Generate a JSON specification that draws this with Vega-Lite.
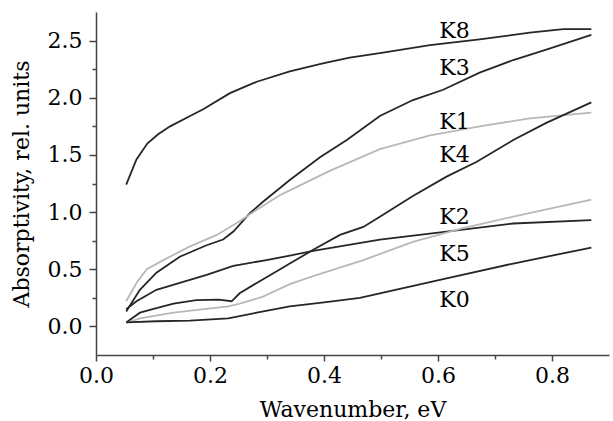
{
  "$schema": "https://vega.github.io/schema/vega-lite/v6.json",
  "width": 513,
  "height": 343,
  "autosize": {"type": "none"},
  "padding": {"left": 96, "top": 12, "right": 4, "bottom": 66},
  "background": "white",
  "config": {
    "view": {"stroke": null},
    "font": "DejaVu Serif",
    "text": {"font": "DejaVu Serif"},
    "axis": {
      "labelFont": "DejaVu Serif",
      "titleFont": "DejaVu Serif",
      "labelFontSize": 22,
      "titleFontSize": 22,
      "titleFontWeight": "normal",
      "labelColor": "#000",
      "titleColor": "#000",
      "domainColor": "#444",
      "tickColor": "#444",
      "domainWidth": 1.5,
      "tickWidth": 1.5,
      "labelFlush": false,
      "grid": false
    }
  },
  "datasets": {
    "curves": [
      {"s":"K8","x":0.053,"y":1.24},{"s":"K8","x":0.071,"y":1.46},{"s":"K8","x":0.09,"y":1.6},{"s":"K8","x":0.109,"y":1.68},{"s":"K8","x":0.13,"y":1.75},{"s":"K8","x":0.165,"y":1.84},{"s":"K8","x":0.188,"y":1.9},{"s":"K8","x":0.235,"y":2.04},{"s":"K8","x":0.282,"y":2.14},{"s":"K8","x":0.34,"y":2.23},{"s":"K8","x":0.398,"y":2.3},{"s":"K8","x":0.445,"y":2.35},{"s":"K8","x":0.498,"y":2.39},{"s":"K8","x":0.586,"y":2.46},{"s":"K8","x":0.673,"y":2.51},{"s":"K8","x":0.761,"y":2.57},{"s":"K8","x":0.82,"y":2.6},{"s":"K8","x":0.869,"y":2.6},
      {"s":"K3","x":0.053,"y":0.13},{"s":"K3","x":0.077,"y":0.32},{"s":"K3","x":0.106,"y":0.47},{"s":"K3","x":0.147,"y":0.61},{"s":"K3","x":0.194,"y":0.71},{"s":"K3","x":0.223,"y":0.76},{"s":"K3","x":0.241,"y":0.83},{"s":"K3","x":0.27,"y":0.99},{"s":"K3","x":0.293,"y":1.09},{"s":"K3","x":0.34,"y":1.28},{"s":"K3","x":0.393,"y":1.48},{"s":"K3","x":0.44,"y":1.63},{"s":"K3","x":0.498,"y":1.84},{"s":"K3","x":0.556,"y":1.98},{"s":"K3","x":0.609,"y":2.07},{"s":"K3","x":0.673,"y":2.22},{"s":"K3","x":0.732,"y":2.33},{"s":"K3","x":0.79,"y":2.42},{"s":"K3","x":0.869,"y":2.55},
      {"s":"K1","x":0.053,"y":0.22},{"s":"K1","x":0.071,"y":0.38},{"s":"K1","x":0.089,"y":0.5},{"s":"K1","x":0.118,"y":0.58},{"s":"K1","x":0.165,"y":0.7},{"s":"K1","x":0.212,"y":0.8},{"s":"K1","x":0.252,"y":0.92},{"s":"K1","x":0.282,"y":1.02},{"s":"K1","x":0.323,"y":1.15},{"s":"K1","x":0.34,"y":1.19},{"s":"K1","x":0.41,"y":1.36},{"s":"K1","x":0.498,"y":1.55},{"s":"K1","x":0.586,"y":1.67},{"s":"K1","x":0.673,"y":1.75},{"s":"K1","x":0.761,"y":1.82},{"s":"K1","x":0.869,"y":1.87},
      {"s":"K4","x":0.053,"y":0.035},{"s":"K4","x":0.077,"y":0.12},{"s":"K4","x":0.106,"y":0.16},{"s":"K4","x":0.136,"y":0.2},{"s":"K4","x":0.176,"y":0.23},{"s":"K4","x":0.215,"y":0.235},{"s":"K4","x":0.238,"y":0.22},{"s":"K4","x":0.252,"y":0.29},{"s":"K4","x":0.282,"y":0.38},{"s":"K4","x":0.323,"y":0.5},{"s":"K4","x":0.34,"y":0.55},{"s":"K4","x":0.381,"y":0.67},{"s":"K4","x":0.428,"y":0.8},{"s":"K4","x":0.469,"y":0.87},{"s":"K4","x":0.498,"y":0.96},{"s":"K4","x":0.556,"y":1.14},{"s":"K4","x":0.615,"y":1.31},{"s":"K4","x":0.668,"y":1.44},{"s":"K4","x":0.732,"y":1.63},{"s":"K4","x":0.79,"y":1.78},{"s":"K4","x":0.869,"y":1.96},
      {"s":"K2","x":0.053,"y":0.15},{"s":"K2","x":0.071,"y":0.22},{"s":"K2","x":0.106,"y":0.32},{"s":"K2","x":0.147,"y":0.38},{"s":"K2","x":0.194,"y":0.45},{"s":"K2","x":0.241,"y":0.53},{"s":"K2","x":0.299,"y":0.58},{"s":"K2","x":0.34,"y":0.62},{"s":"K2","x":0.381,"y":0.66},{"s":"K2","x":0.498,"y":0.76},{"s":"K2","x":0.615,"y":0.83},{"s":"K2","x":0.732,"y":0.9},{"s":"K2","x":0.869,"y":0.93},
      {"s":"K5","x":0.053,"y":0.03},{"s":"K5","x":0.077,"y":0.07},{"s":"K5","x":0.136,"y":0.12},{"s":"K5","x":0.232,"y":0.175},{"s":"K5","x":0.252,"y":0.2},{"s":"K5","x":0.293,"y":0.26},{"s":"K5","x":0.323,"y":0.33},{"s":"K5","x":0.34,"y":0.37},{"s":"K5","x":0.381,"y":0.44},{"s":"K5","x":0.469,"y":0.58},{"s":"K5","x":0.556,"y":0.74},{"s":"K5","x":0.644,"y":0.86},{"s":"K5","x":0.732,"y":0.96},{"s":"K5","x":0.869,"y":1.11},
      {"s":"K0","x":0.053,"y":0.035},{"s":"K0","x":0.106,"y":0.045},{"s":"K0","x":0.165,"y":0.05},{"s":"K0","x":0.232,"y":0.07},{"s":"K0","x":0.282,"y":0.12},{"s":"K0","x":0.34,"y":0.175},{"s":"K0","x":0.4,"y":0.21},{"s":"K0","x":0.463,"y":0.25},{"s":"K0","x":0.498,"y":0.29},{"s":"K0","x":0.615,"y":0.42},{"s":"K0","x":0.732,"y":0.55},{"s":"K0","x":0.869,"y":0.69}
    ],
    "labels": [
      {"label":"K8","x":0.629,"y":2.58},
      {"label":"K3","x":0.629,"y":2.26},
      {"label":"K1","x":0.629,"y":1.79},
      {"label":"K4","x":0.629,"y":1.5},
      {"label":"K2","x":0.629,"y":0.96},
      {"label":"K5","x":0.629,"y":0.63},
      {"label":"K0","x":0.629,"y":0.23}
    ]
  },
  "resolve": {"axis": {"x": "independent", "y": "independent"}},
  "layer": [
    {
      "data": {"name": "curves"},
      "mark": {"type": "line", "strokeWidth": 1.8},
      "encoding": {
        "x": {"field": "x", "type": "quantitative",
          "scale": {"domain": [0, 0.9], "nice": false, "zero": false},
          "axis": {"values": [0, 0.2, 0.4, 0.6, 0.8], "format": ".1f", "tickSize": 6, "labelPadding": 4, "title": "Wavenumber, eV", "titlePadding": 13, "orient": "bottom"}},
        "y": {"field": "y", "type": "quantitative",
          "scale": {"domain": [-0.25, 2.75], "nice": false, "zero": false},
          "axis": {"values": [0, 0.5, 1, 1.5, 2, 2.5], "format": ".1f", "tickSize": 7, "labelPadding": 7, "title": "Absorptivity, rel. units", "titlePadding": 14, "orient": "left"}},
        "color": {"field": "s", "type": "nominal", "legend": null,
          "scale": {"domain": ["K8","K3","K1","K4","K2","K5","K0"], "range": ["#262626","#262626","#b8b8b8","#262626","#262626","#b8b8b8","#262626"]}},
        "detail": {"field": "s"},
        "order": {"field": "x", "type": "quantitative"}
      }
    },
    {
      "data": {"name": "curves"},
      "mark": {"type": "point", "opacity": 0},
      "encoding": {
        "x": {"field": "x", "type": "quantitative",
          "axis": {"values": [0.1, 0.3, 0.5, 0.7], "tickSize": 4, "labels": false, "domain": false, "title": null, "orient": "bottom"}},
        "y": {"field": "y", "type": "quantitative",
          "axis": {"values": [0.25, 0.75, 1.25, 1.75, 2.25], "tickSize": 4, "labels": false, "domain": false, "title": null, "orient": "left"}}
      }
    },
    {
      "mark": {"type": "rule", "color": "#666", "strokeWidth": 1.5},
      "encoding": {"y": {"datum": 2.75, "type": "quantitative", "axis": null}}
    },
    {
      "data": {"name": "labels"},
      "mark": {"type": "text", "font": "DejaVu Serif", "fontSize": 22, "color": "#000", "align": "center", "baseline": "middle"},
      "encoding": {
        "x": {"field": "x", "type": "quantitative", "axis": null},
        "y": {"field": "y", "type": "quantitative", "axis": null},
        "text": {"field": "label"}
      }
    }
  ]
}
